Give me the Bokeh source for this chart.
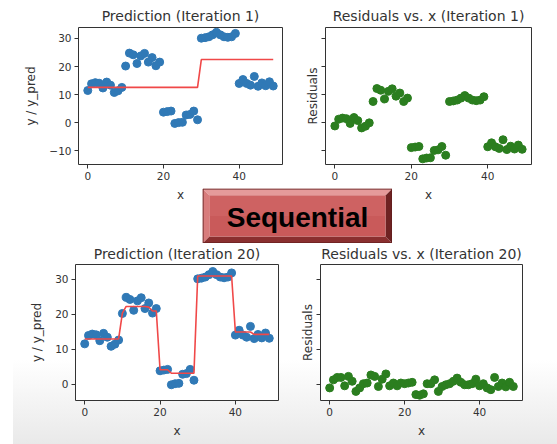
from bokeh.plotting import figure
from bokeh.layouts import row, column
from bokeh.models import Range1d, FixedTicker, CustomJSTickFormatter
from bokeh.embed import file_html
from bokeh.resources import INLINE
from bokeh.core.properties import value

# ---------------- data ----------------
x_values = list(range(50))
y_values = [11.5, 13.9, 14.3, 14.1, 12.4, 14.5, 13.4, 10.8, 11.4, 12.6,
            20.2, 24.8, 24.2, 21.1, 23.8, 24.7, 21.6, 23.2, 20.3, 21.6,
            3.8, 4.0, 4.2, -0.2, 0.1, 0.2, 2.8, 3.0, 4.2, 1.1,
            30.1, 30.3, 30.6, 31.3, 32.2, 31.3, 30.6, 30.4, 30.6, 31.8,
            14.0, 15.4, 14.0, 13.4, 16.5, 13.0, 14.2, 13.2, 14.6, 13.1]
pred_iter1 = [12.6, 12.6, 12.6, 12.6, 12.6, 12.6, 12.6, 12.6, 12.6, 12.6,
              12.6, 12.6, 12.6, 12.6, 12.6, 12.6, 12.6, 12.6, 12.6, 12.6,
              12.6, 12.6, 12.6, 12.6, 12.6, 12.6, 12.6, 12.6, 12.6, 12.6,
              22.5, 22.5, 22.5, 22.5, 22.5, 22.5, 22.5, 22.5, 22.5, 22.5,
              22.5, 22.5, 22.5, 22.5, 22.5, 22.5, 22.5, 22.5, 22.5, 22.5]
resid_iter1 = [-1.1, 1.3, 1.7, 1.5, -0.2, 1.9, 0.8, -1.8, -1.2, 0.0,
               7.6, 12.2, 11.6, 8.5, 11.2, 12.1, 9.5, 10.6, 7.6, 8.8,
               -8.8, -8.6, -8.4, -12.8, -12.5, -12.4, -9.8, -9.6, -8.4, -11.5,
               7.6, 7.8, 8.1, 8.8, 9.7, 8.8, 8.1, 7.9, 8.1, 9.3,
               -8.5, -7.1, -8.5, -9.1, -6.0, -9.5, -8.3, -9.3, -7.9, -9.4]
pred_iter20 = [12.9, 12.9, 12.9, 12.9, 12.9, 12.9, 12.9, 12.9, 12.9, 12.9,
               20.3, 22.2, 22.2, 22.2, 22.2, 22.2, 22.2, 22.0, 20.9, 20.9,
               4.1, 4.1, 4.1, 3.1, 3.1, 3.1, 3.1, 3.1, 3.1, 3.1,
               30.9, 30.9, 30.9, 30.9, 30.9, 30.9, 30.9, 30.9, 30.9, 30.9,
               14.9, 14.9, 14.9, 14.9, 14.9, 14.2, 14.2, 14.2, 14.2, 14.2]
resid_iter20 = [-1.1, 1.2, 1.9, 1.9, -0.5, 2.2, 0.8, -2.1, -1.1, 0.1,
                0.3, 2.6, 2.2, -0.7, 1.4, 2.9, -0.5, 0.3, -0.5, 0.3,
                0.1, 0.3, 0.5, -3.0, -3.2, -2.8, 0.1, 0.1, 1.2, -2.1,
                -0.7, -0.2, 0.1, 0.8, 1.7, 0.5, -0.2, -0.2, 0.1, 1.4,
                -0.5, 0.1, -1.1, -1.6, 1.9, -0.7, 0.3, -0.8, 0.5, -0.7]
x_ticks = [0, 20, 40]
y_ticks_iter1 = [-10, 0, 10, 20, 30]
y_ticks_iter20 = [0, 10, 20, 30]
banner_text = "Sequential"

FONT = "DejaVu Sans"
TXT = "#333333"
BLUE = "#3079b6"
GREEN = "#2b7e1f"
RED = "#f04848"


def panel(title, ylabel, width, height, borders, y_rng, y_ticks, show_y_labels,
          ylabel_standoff, title_standoff):
    l, r, t, b = borders
    p = figure(width=width, height=height, x_range=Range1d(-2.45, 51.45),
               y_range=Range1d(*y_rng), toolbar_location=None, output_backend="svg",
               title=title, min_border_left=l, min_border_right=r,
               min_border_top=t, min_border_bottom=b)
    p.border_fill_color = None
    p.background_fill_color = "white"
    p.outline_line_color = TXT
    p.outline_line_width = 1
    p.grid.visible = False
    p.title.align = "center"
    p.title.text_font = FONT
    p.title.text_font_size = "14px"
    p.title.text_font_style = "normal"
    p.title.text_color = TXT
    p.title.standoff = title_standoff
    p.xaxis.ticker = FixedTicker(ticks=x_ticks)
    p.yaxis.ticker = FixedTicker(ticks=y_ticks)
    p.xaxis.axis_label = "x"
    p.yaxis.axis_label = ylabel
    for ax in p.axis:
        ax.axis_line_color = None
        ax.major_tick_in = 0
        ax.major_tick_out = 4
        ax.minor_tick_line_color = None
        ax.major_tick_line_color = TXT
        ax.major_label_text_font = FONT
        ax.major_label_text_font_size = "10.5px"
        ax.major_label_text_color = TXT
        ax.major_label_standoff = 3
        ax.axis_label_text_font = FONT
        ax.axis_label_text_font_size = "12px"
        ax.axis_label_text_font_style = "normal"
        ax.axis_label_text_color = TXT
    p.xaxis.axis_label_standoff = 5
    p.yaxis.axis_label_standoff = ylabel_standoff
    if show_y_labels:
        p.yaxis.major_label_overrides = {-10: "\u221210"}
    else:
        p.yaxis.formatter = CustomJSTickFormatter(code="return ''")
    return p


# top row
tl = panel("Prediction (Iteration 1)", "y / y_pred", 290, 205, (78, 8, 27, 41),
           (-14.8, 33.9), y_ticks_iter1, True, 8, 8)
tl.scatter(x_values, y_values, size=8, color=BLUE)
tl.line(x_values, pred_iter1, color=RED, line_width=1.6)

tr = panel("Residuals vs. x (Iteration 1)", "Residuals", 267, 205, (35, 26, 27, 41),
           (-14.8, 33.9), y_ticks_iter1, False, 2, 8)
tr.scatter(x_values, resid_iter1, size=8, color=GREEN)

# bottom row
bl = panel("Prediction (Iteration 20)", "y / y_pred", 285, 206, (75, 7, 25, 44),
           (-4.7, 34.2), y_ticks_iter20, True, 8, 5)
bl.scatter(x_values, y_values, size=8, color=BLUE)
bl.line(x_values, pred_iter20, color=RED, line_width=1.6)

br = panel("Residuals vs. x (Iteration 20)", "Residuals", 272, 206, (35, 35, 26, 43),
           (-4.7, 34.2), y_ticks_iter20, False, 2, 5)
br.scatter(x_values, resid_iter20, size=8, color=GREEN)

# banner
bw, bh, bv = 190, 55, 7
bf = figure(width=bw, height=bh, x_range=Range1d(0, bw), y_range=Range1d(0, bh),
            toolbar_location=None, output_backend="svg", min_border=0,
            x_axis_location=None, y_axis_location=None, margin=(-17, 0, 0, 202))
bf.grid.visible = False
bf.outline_line_color = None
bf.background_fill_color = None
bf.border_fill_color = None
bf.patches(
    xs=[[0, bw, bw - bv, bv], [0, 0, bv, bv], [0, bw, bw - bv, bv], [bw, bw, bw - bv, bw - bv]],
    ys=[[bh, bh, bh - bv, bh - bv], [0, bh, bh - bv, bv], [0, 0, bv, bv], [0, bh, bh - bv, bv]],
    fill_color=["#e59a9a", "#d87c7c", "#8a2f2f", "#6e2222"], line_color=None)
bf.quad(left=[bv], right=[bw - bv], bottom=[bv], top=[bh - bv], fill_color="#c95a5a", line_color=None)
bf.quad(left=[bv], right=[bw - bv], bottom=[bh / 2], top=[bh - bv], fill_color="#d46a6a",
        fill_alpha=0.5, line_color=None)
bf.quad(left=[0.5], right=[bw - 0.5], bottom=[0.5], top=[bh - 0.5], fill_color=None,
        line_color="#5a1a1a", line_width=1)
bf.text(x=[bw / 2], y=[bh / 2 - 1], text=[banner_text], text_align="center", text_baseline="middle",
        text_font=value("Liberation Sans"), text_font_style="bold", text_font_size="28px",
        text_color="black")

top_row = row(tl, tr)
bottom_row = row(bl, br, margin=(-5, 0, 0, 0))
layout = column(top_row, bf, bottom_row,
                styles={"background": "linear-gradient(to right, #ffffff 0px, #ffffff 13px, rgba(255,255,255,0) 13px), "
                                      "linear-gradient(to bottom, #ffffff 0px, #ffffff 360px, #e9e9e9 444px)"})

open("out.html", "w").write(file_html(layout, INLINE))
